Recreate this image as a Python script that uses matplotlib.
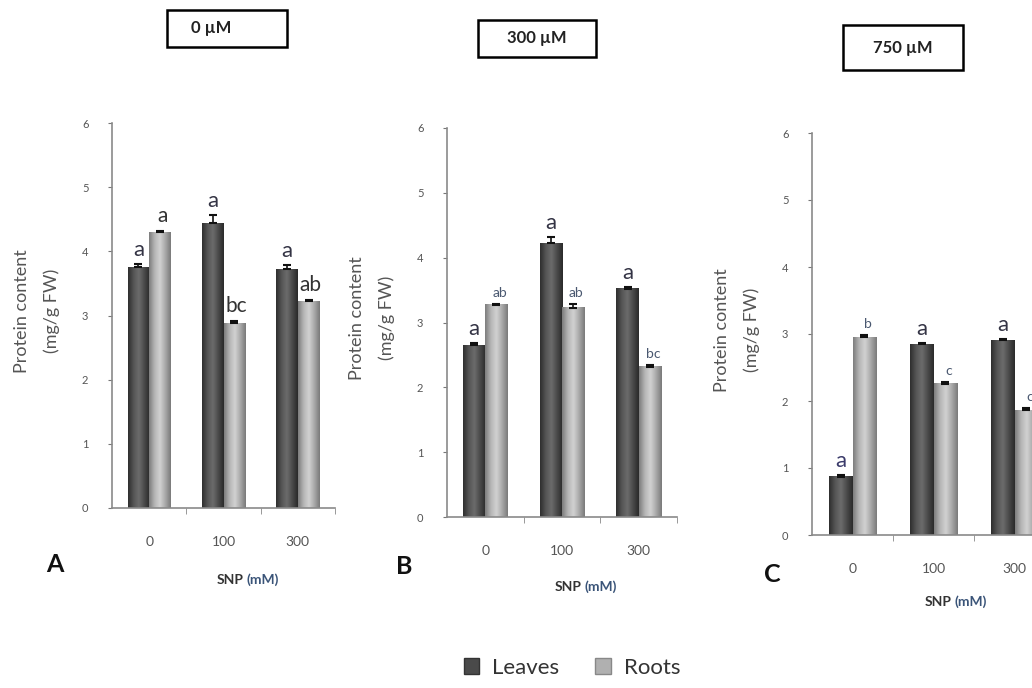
import numpy as np
import matplotlib
matplotlib.use("Agg")
import matplotlib.pyplot as plt
from matplotlib.patches import Rectangle, Patch
from matplotlib.colors import LinearSegmentedColormap

plt.rcParams['font.family'] = ['Lato', 'DejaVu Sans']

# data
snp_levels = ["0", "100", "300"]
panel_titles = ["0 \u00b5M", "300 \u00b5M", "750 \u00b5M"]
panel_letters = ["A", "B", "C"]

leaves_A = [3.75, 4.44, 3.72]
roots_A = [4.30, 2.88, 3.22]
leaves_A_err = [0.05, 0.13, 0.07]
roots_A_err = [0.02, 0.04, 0.02]

leaves_B = [2.65, 4.22, 3.52]
roots_B = [3.27, 3.23, 2.32]
leaves_B_err = [0.03, 0.10, 0.03]
roots_B_err = [0.02, 0.05, 0.02]

leaves_C = [0.87, 2.85, 2.91]
roots_C = [2.95, 2.26, 1.86]
leaves_C_err = [0.02, 0.02, 0.02]
roots_C_err = [0.03, 0.02, 0.03]

letters_leaves = [["a", "a", "a"], ["a", "a", "a"], ["a", "a", "a"]]
letters_roots = [["a", "bc", "ab"], ["ab", "ab", "bc"], ["b", "c", "c"]]

W, H = 1032, 688
fig = plt.figure(figsize=(W / 100, H / 100), dpi=100)
fig.patch.set_facecolor("white")

def fx(px):
    return px / W

def fy(py):
    return 1 - py / H

# axes boxes in pixels: left, right, top(6), bottom(0)
boxes = [(112, 335, 123, 508), (447, 677, 128, 517), (812, 1055, 133, 535)]

leaf_cmap = LinearSegmentedColormap.from_list(
    "leaf", ["#2e2e2e", "#555555", "#6c6c6c", "#4a4a4a", "#2a2a2a"])
root_cmap = LinearSegmentedColormap.from_list(
    "root", ["#7d7d7d", "#b5b5b5", "#d2d2d2", "#a9a9a9", "#7a7a7a"])
grad = np.linspace(0, 1, 64).reshape(1, -1)

all_leaves = [leaves_A, leaves_B, leaves_C]
all_roots = [roots_A, roots_B, roots_C]
all_leaves_err = [leaves_A_err, leaves_B_err, leaves_C_err]
all_roots_err = [roots_A_err, roots_B_err, roots_C_err]

bw = 0.29
x = np.arange(len(snp_levels))

for i in range(3):
    l, r, t, b = boxes[i]
    ax = fig.add_axes([fx(l), fy(b), fx(r - l), (b - t) / H])
    ax.set_facecolor("none")

    for vals, errs, cmap, off in [(all_leaves[i], all_leaves_err[i], leaf_cmap, -bw / 2),
                                  (all_roots[i], all_roots_err[i], root_cmap, bw / 2)]:
        bars = ax.bar(x + off, vals, bw, color="none", edgecolor="none", zorder=2)
        for rect in bars:
            x0 = rect.get_x()
            ax.imshow(grad, extent=[x0, x0 + bw, 0, rect.get_height()],
                      aspect="auto", cmap=cmap, zorder=2, interpolation="bicubic")
        ax.errorbar(x + off, vals, yerr=[np.zeros(3), errs], fmt="none",
                    ecolor="#111111", elinewidth=1.2, capsize=3, capthick=1.5, zorder=3)

    # significance letters
    for j in range(3):
        lv = all_leaves[i][j] + all_leaves_err[i][j]
        ax.text(x[j] - bw / 2, lv + 0.06, letters_leaves[i][j], ha="center", va="bottom",
                fontsize=16, color="#333344" if not (i == 2 and j == 0) else "#3a3a6a")
        rv = all_roots[i][j] + all_roots_err[i][j]
        small = i > 0
        ax.text(x[j] + bw / 2 + (0.04 if small else 0.03), rv + 0.08, letters_roots[i][j],
                ha="center", va="bottom", fontsize=10 if small else 15,
                color="#4a5870" if small else "#333333")

    ax.set_xlim(-0.5, 2.5)
    ax.set_ylim(0, 6)
    ax.set_yticks(range(7))
    ax.tick_params(axis="y", labelsize=8, colors="#777777", length=3, pad=14, labelcolor="#555555")
    ax.set_xticks(x)
    ax.set_xticklabels(snp_levels)
    ax.tick_params(axis="x", length=0, labelsize=10, labelcolor="#555555", pad=20)
    ax.set_xticks([0.5, 1.5, 2.5], minor=True)
    ax.tick_params(axis="x", which="minor", length=4, color="#888888")
    for s in ["top", "right"]:
        ax.spines[s].set_visible(False)
    for s in ["left", "bottom"]:
        ax.spines[s].set_color("#8a8a8a")
        ax.spines[s].set_linewidth(1.2)

# y-axis labels
ylab_x = [(22, 52), (357, 387), (722, 752)]
ylab_y = [311, 318, 330]
for i in range(3):
    fig.text(fx(ylab_x[i][0]), fy(ylab_y[i]), "Protein content", rotation=90,
             ha="center", va="center", fontsize=13, color="#555555")
    fig.text(fx(ylab_x[i][1]), fy(ylab_y[i]), "(mg/g FW)", rotation=90,
             ha="center", va="center", fontsize=13, color="#555555")

# panel letters and x labels
letter_pos = [(55, 565), (404, 566), (772, 574)]
snp_pos = [(262, 580), (600, 587), (970, 602)]
for i in range(3):
    fig.text(fx(letter_pos[i][0]), fy(letter_pos[i][1]), panel_letters[i], ha="center",
             va="center", fontsize=18, fontweight="bold", color="#111111")
    fig.text(fx(snp_pos[i][0]) - 0.018, fy(snp_pos[i][1]), "SNP", ha="right", va="center",
             fontsize=10, fontweight="bold", color="#333333")
    fig.text(fx(snp_pos[i][0]) - 0.015, fy(snp_pos[i][1]), "(mM)", ha="left", va="center",
             fontsize=10, fontweight="bold", color="#3a5478")

# title boxes
title_boxes = [(167, 287, 10, 47), (478, 596, 20, 57), (843, 963, 25, 70)]
for i in range(3):
    x0, x1, y0, y1 = title_boxes[i]
    fig.add_artist(Rectangle((fx(x0), fy(y1)), fx(x1 - x0), (y1 - y0) / H,
                             transform=fig.transFigure, fill=False, edgecolor="black", lw=1.8))
    fig.text(fx((x0 + x1) / 2) - (0.015 if i == 0 else 0), fy((y0 + y1) / 2), panel_titles[i],
             ha="center", va="center", fontsize=12, fontweight="bold", color="#222222")

# legend
handles = [Patch(facecolor="#4a4a4a", edgecolor="#333333"),
           Patch(facecolor="#b0b0b0", edgecolor="#888888")]
fig.legend(handles, ["Leaves", "Roots"], loc="center", bbox_to_anchor=(fx(572), fy(668)),
           ncol=2, frameon=False, fontsize=16, handlelength=0.7, handleheight=0.7,
           columnspacing=1.6, handletextpad=0.6, labelcolor="#333333")

fig.savefig("out.png", dpi=100)
